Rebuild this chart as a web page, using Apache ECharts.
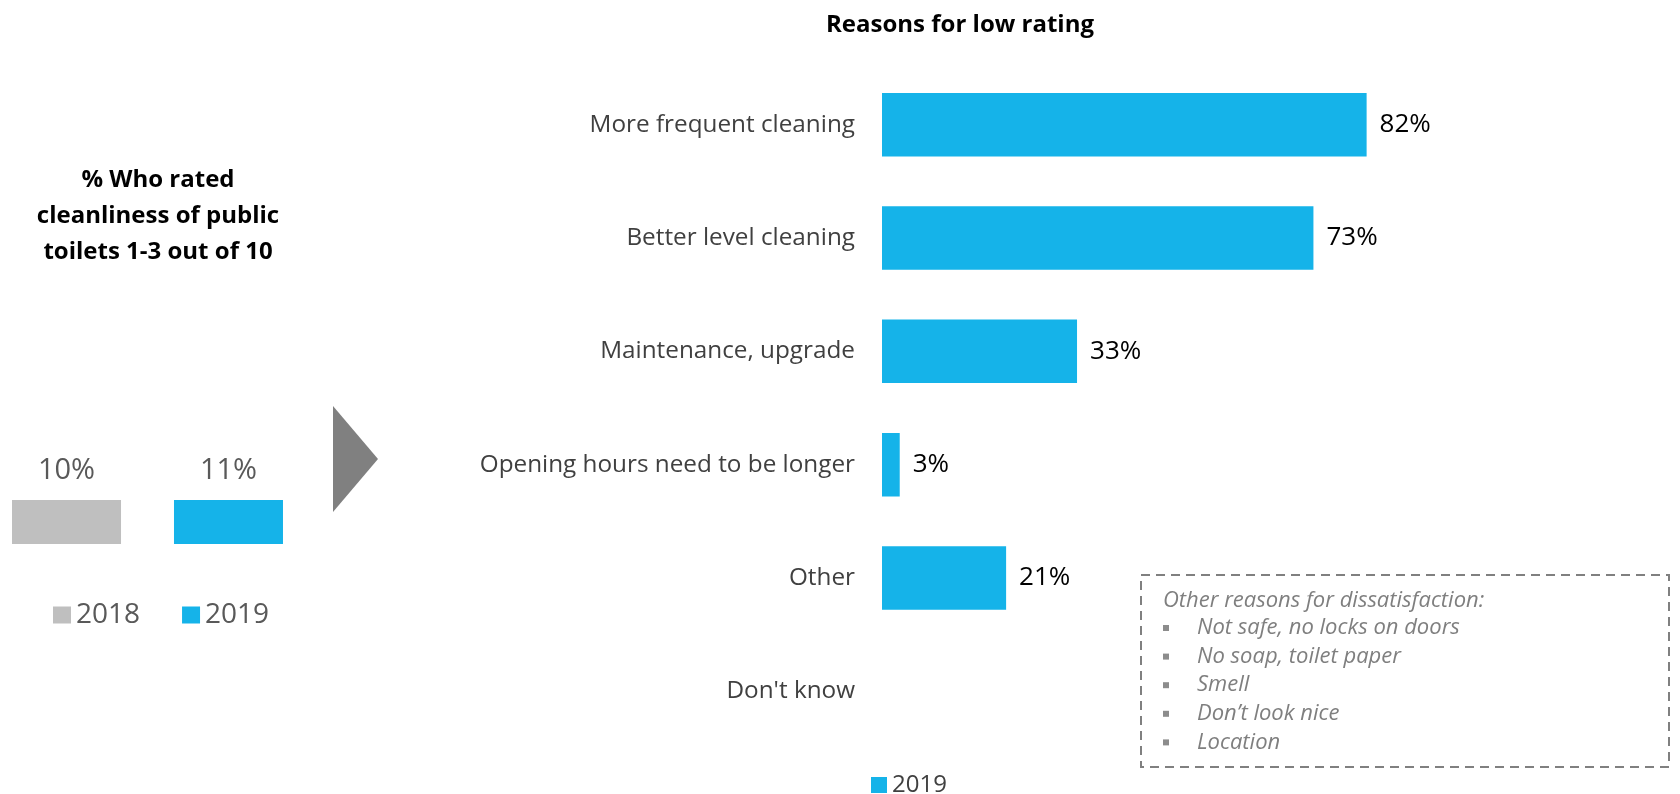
<!DOCTYPE html>
<html>
<head>
<meta charset="utf-8">
<script src="https://cdn.jsdelivr.net/npm/echarts@6/dist/echarts.min.js"></script>
<style>
html,body{margin:0;padding:0;background:#fff;}
#main{width:1680px;height:794px;}
</style>
</head>
<body>
<div id="main"></div>
<script>
// ---- data ----
const reasonCategories = ['More frequent cleaning', 'Better level cleaning', 'Maintenance, upgrade', 'Opening hours need to be longer', 'Other', "Don't know"];
const reasonValues2019 = [82, 73, 33, 3, 21, null];
const ratedYears = ['2018', '2019'];
const rated2018 = [10];
const rated2019 = [11];
const otherReasonsTitle = 'Other reasons for dissatisfaction:';
const otherReasons = ['Not safe, no locks on doors', 'No soap, toilet paper', 'Smell', 'Don\u2019t look nice', 'Location'];

const BLUE = '#15B3E9';
const GREY = '#BFBFBF';
const FONT = '"Open Sans", sans-serif';

const chart = echarts.init(document.getElementById('main'));

const boxGraphics = [];
boxGraphics.push({
  type: 'rect', shape: {x: 1141, y: 575, width: 528, height: 192},
  style: {fill: 'none', stroke: '#808080', lineWidth: 2, lineDash: [9, 6]}
});
boxGraphics.push({
  type: 'text', x: 1163, y: 601,
  style: {text: otherReasonsTitle, font: 'italic 22px ' + FONT, fill: '#7F7F7F', textVerticalAlign: 'middle'}
});
otherReasons.forEach((t, i) => {
  const y = 628 + i * 28.6;
  boxGraphics.push({type: 'rect', shape: {x: 1163, y: y - 3, width: 6, height: 6}, style: {fill: '#8C8C8C'}});
  boxGraphics.push({
    type: 'text', x: 1197, y: y,
    style: {text: t, font: 'italic 22px ' + FONT, fill: '#7F7F7F', textVerticalAlign: 'middle'}
  });
});

const option = {
  backgroundColor: '#ffffff',
  animation: false,
  textStyle: {fontFamily: FONT},
  grid: [
    {left: 882, width: 591, top: 68, height: 680, containLabel: false},
    {left: 12, width: 271, top: 500, height: 44, containLabel: false}
  ],
  xAxis: [
    {gridIndex: 0, type: 'value', min: 0, max: 100, show: false},
    {gridIndex: 1, type: 'category', data: ['rated'], show: false}
  ],
  yAxis: [
    {
      gridIndex: 0, type: 'category', data: reasonCategories, inverse: true,
      axisLine: {show: false}, axisTick: {show: false}, splitLine: {show: false},
      axisLabel: {fontSize: 24.3, color: '#404040', margin: 27, fontFamily: FONT}
    },
    {gridIndex: 1, type: 'value', min: 0, max: 10, show: false}
  ],
  legend: [
    {
      data: ratedYears, left: 53, top: 601, padding: 0, itemWidth: 18, itemHeight: 17, itemGap: 42,
      icon: 'rect', textStyle: {fontSize: 28, color: '#595959', fontFamily: FONT}
    },
    {
      data: ['2019'], left: 871, top: 773, padding: 0, itemWidth: 16, itemHeight: 16,
      icon: 'rect', textStyle: {fontSize: 24, color: '#404040', fontFamily: FONT}
    }
  ],
  series: [
    {
      name: '2019', type: 'bar', xAxisIndex: 0, yAxisIndex: 0,
      data: reasonValues2019, barCategoryGap: '44%',
      itemStyle: {color: BLUE},
      label: {show: true, position: 'right', distance: 13, color: '#000', fontSize: 26, fontFamily: FONT, formatter: '{c}%'}
    },
    {
      name: '2018', type: 'bar', xAxisIndex: 1, yAxisIndex: 1,
      data: rated2018, barWidth: 109, barGap: '48.6%', clip: true,
      itemStyle: {color: GREY},
      label: {show: true, position: 'top', distance: 15, color: '#595959', fontSize: 29, fontFamily: FONT, formatter: '{c}%'}
    },
    {
      name: '2019', type: 'bar', xAxisIndex: 1, yAxisIndex: 1,
      data: rated2019, barWidth: 109, barGap: '48.6%', clip: true,
      itemStyle: {color: BLUE},
      label: {show: true, position: 'top', distance: 15, color: '#595959', fontSize: 29, fontFamily: FONT, formatter: '{c}%'}
    }
  ],
  graphic: [
    {
      type: 'text', x: 960, y: 25,
      style: {text: 'Reasons for low rating', font: 'bold 24px ' + FONT, fill: '#000', textAlign: 'center', textVerticalAlign: 'middle'}
    },
    {
      type: 'text', x: 158, y: 216,
      style: {
        text: '% Who rated\ncleanliness of public\ntoilets 1-3 out of 10',
        font: 'bold 24px ' + FONT, lineHeight: 36, fill: '#000', textAlign: 'center', textVerticalAlign: 'middle'
      }
    },
    {
      type: 'polygon', shape: {points: [[333, 406], [378, 459], [333, 512]]},
      style: {fill: '#808080'}
    }
  ].concat(boxGraphics)
};
chart.setOption(option);
</script>
</body>
</html>
